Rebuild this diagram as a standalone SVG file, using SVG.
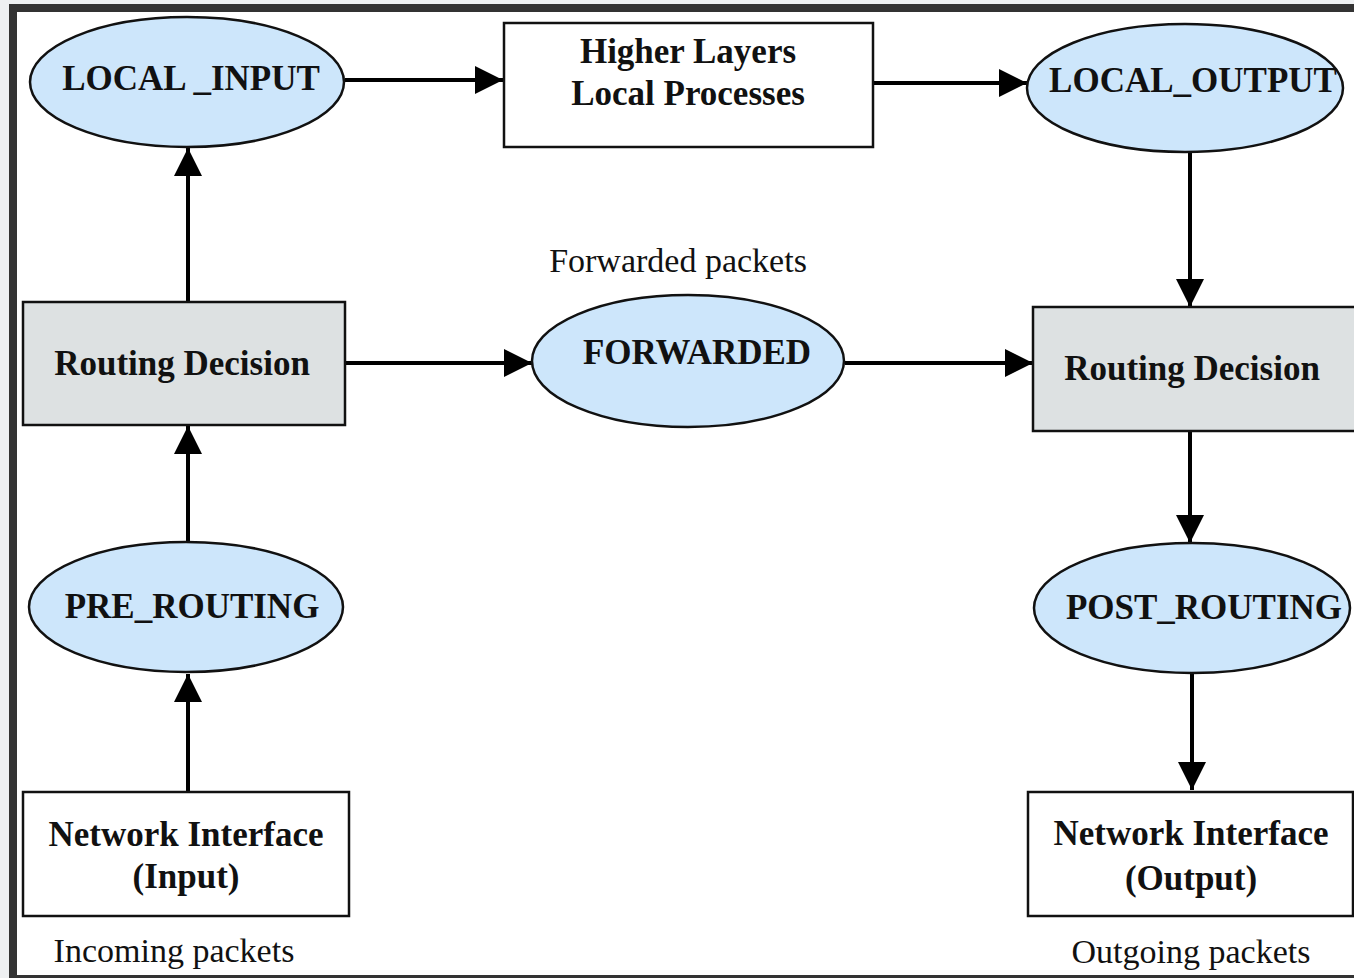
<svg xmlns="http://www.w3.org/2000/svg" width="1354" height="978" viewBox="0 0 1354 978">
<style>
.ell{fill:#cde6fb;stroke:#111;stroke-width:2.5}
.box{fill:#fff;stroke:#111;stroke-width:2.5}
.gbox{fill:#dde1e2;stroke:#111;stroke-width:2.5}
.lbl{font-family:"Liberation Serif","Times New Roman",serif;font-weight:bold;font-size:35px;fill:#111;text-anchor:middle}
.note{font-family:"Liberation Serif","Times New Roman",serif;font-size:34px;fill:#111;text-anchor:middle}
.con{stroke:#000;stroke-width:4;fill:none;marker-end:url(#ah)}
</style>
<defs>
<marker id="ah" markerUnits="userSpaceOnUse" markerWidth="30" markerHeight="30" refX="28" refY="14" orient="auto">
<path d="M0,0 L28,14 L0,28 Z" fill="#000"/>
</marker>
</defs>
<rect x="0" y="0" width="1354" height="978" fill="#eef0f2"/>
<rect x="9" y="4" width="1345" height="974" fill="#333"/>
<rect x="17" y="12" width="1337" height="963" fill="#fff"/>

<g id="connectors">
<line class="con" x1="345" y1="80" x2="503" y2="80"/>
<line class="con" x1="873" y1="83" x2="1027" y2="83"/>
<line class="con" x1="188" y1="302" x2="188" y2="148"/>
<line class="con" x1="188" y1="542" x2="188" y2="426"/>
<line class="con" x1="188" y1="792" x2="188" y2="674"/>
<line class="con" x1="345" y1="363" x2="532" y2="363"/>
<line class="con" x1="845" y1="363" x2="1033" y2="363"/>
<line class="con" x1="1190" y1="152" x2="1190" y2="307"/>
<line class="con" x1="1190" y1="431" x2="1190" y2="543"/>
<line class="con" x1="1192" y1="672" x2="1192" y2="790"/>
</g>

<g id="local_input">
<ellipse class="ell" cx="187" cy="82" rx="157" ry="65"/>
<text class="lbl" x="191" y="90">LOCAL _INPUT</text>
</g>
<g id="higher_layers">
<rect class="box" x="504" y="23" width="369" height="124"/>
<text class="lbl" x="688" y="63">Higher Layers</text>
<text class="lbl" x="688" y="105">Local Processes</text>
</g>
<g id="local_output">
<ellipse class="ell" cx="1185" cy="88" rx="158" ry="64"/>
<text class="lbl" x="1193" y="92">LOCAL_OUTPUT</text>
</g>
<g id="routing_left">
<rect class="gbox" x="23" y="302" width="322" height="123"/>
<text class="lbl" x="182" y="375">Routing Decision</text>
</g>
<g id="forwarded">
<text class="note" x="678" y="272">Forwarded packets</text>
<ellipse class="ell" cx="688" cy="361" rx="156" ry="66"/>
<text class="lbl" x="697" y="364">FORWARDED</text>
</g>
<g id="routing_right">
<rect class="gbox" x="1033" y="307" width="330" height="124"/>
<text class="lbl" x="1192" y="380">Routing Decision</text>
</g>
<g id="pre_routing">
<ellipse class="ell" cx="186" cy="607" rx="157" ry="65"/>
<text class="lbl" x="192" y="618">PRE_ROUTING</text>
</g>
<g id="post_routing">
<ellipse class="ell" cx="1192" cy="608" rx="158" ry="65"/>
<text class="lbl" x="1204" y="619">POST_ROUTING</text>
</g>
<g id="ni_input">
<rect class="box" x="23" y="792" width="326" height="124"/>
<text class="lbl" x="186" y="846">Network Interface</text>
<text class="lbl" x="186" y="888">(Input)</text>
<text class="note" x="174" y="962">Incoming packets</text>
</g>
<g id="ni_output">
<rect class="box" x="1028" y="792" width="325" height="124"/>
<text class="lbl" x="1191" y="845">Network Interface</text>
<text class="lbl" x="1191" y="890">(Output)</text>
<text class="note" x="1191" y="963">Outgoing packets</text>
</g>
</svg>
